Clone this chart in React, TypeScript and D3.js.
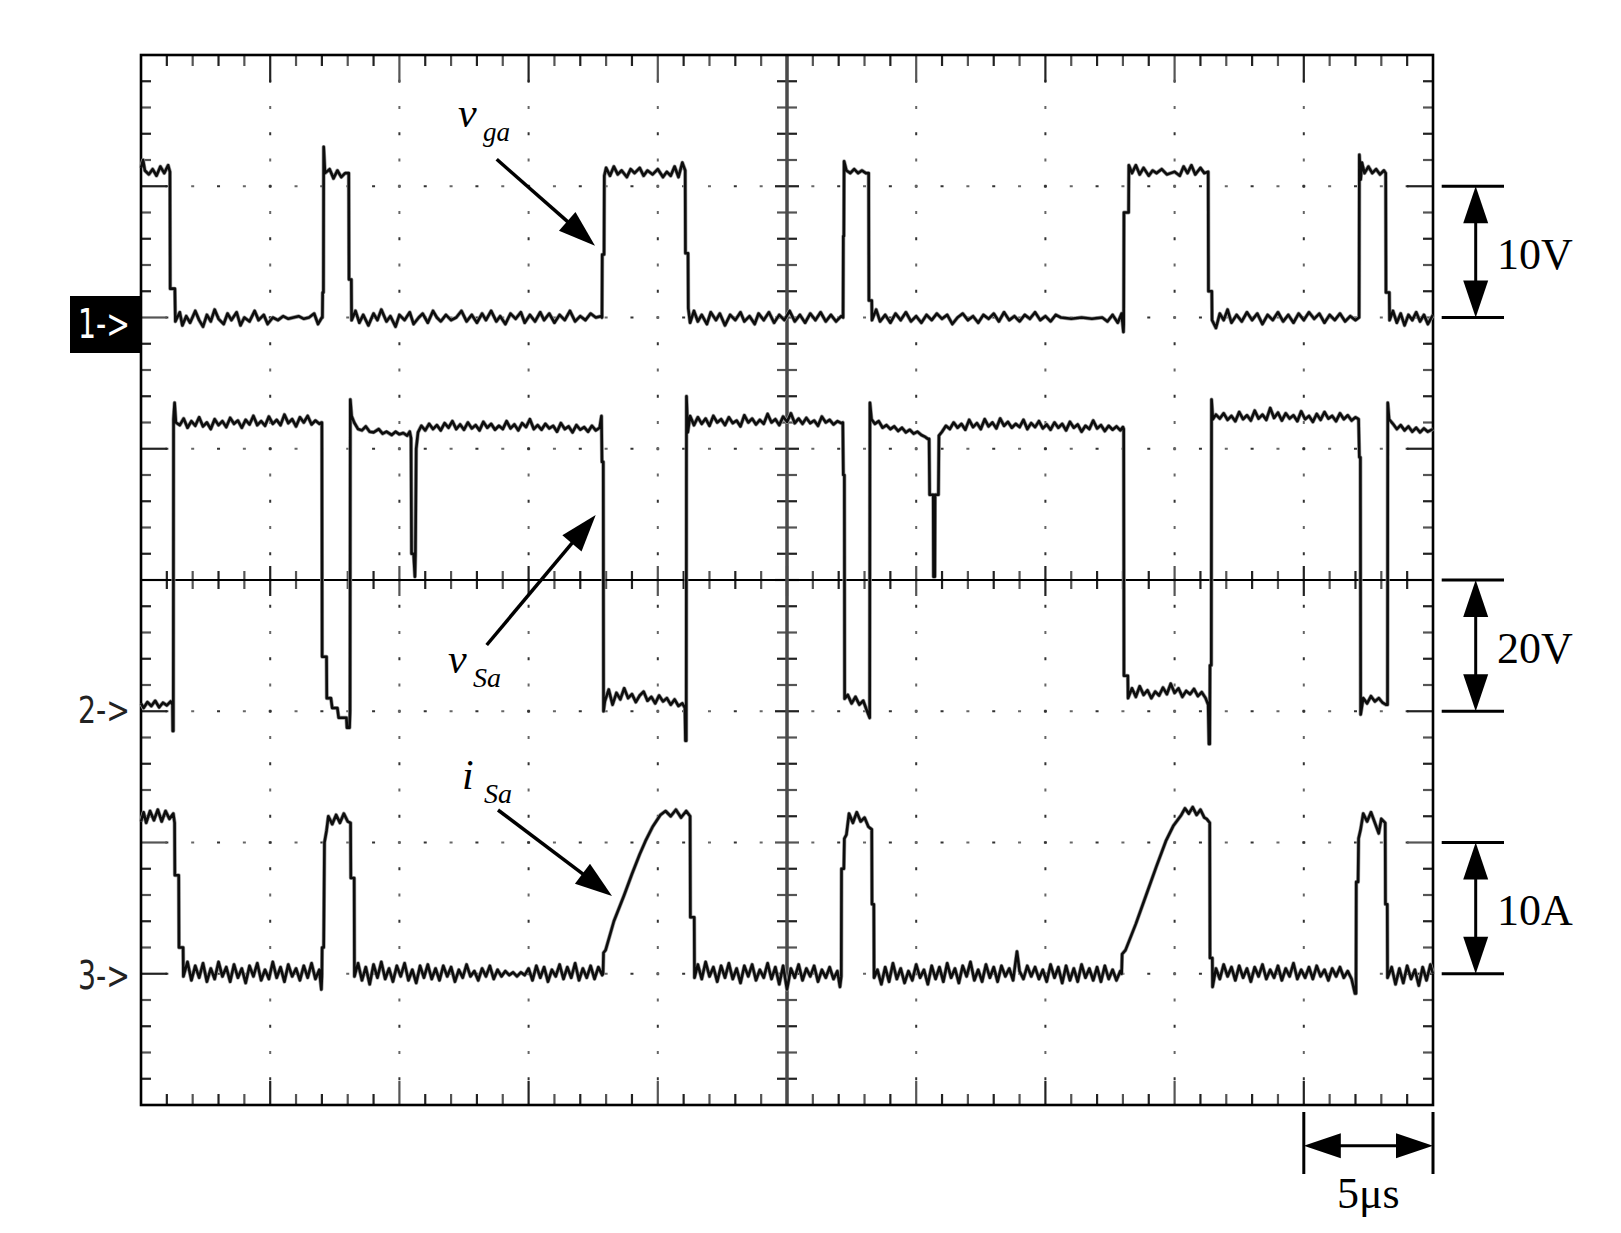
import React from "react";
import * as d3 from "d3";

// ---- data (time in µs, ch1 V, ch2 V, ch3 A) ----
const timeRange = [0, 50];
const hDivs = 10;
const vDivs = 8;
const minorPerDiv = 5;

const vgaTrace: [number, number][] = [
  [0, 11.4], [0.08, 12.0], [0.15, 11.2], [0.3, 10.9], [0.45, 11.3], [0.6, 10.8], [0.75, 11.5], [0.9, 11.0], [1.05, 11.6], [1.12, 11.1], [1.13, 2.2], [1.31, 2.2], [1.33, -0.3],
  [1.5, 0.4], [1.6, -0.6], [1.75, 0.1], [1.9, -0.4], [2.1, 0.5], [2.25, -0.2], [2.4, -0.7], [2.55, 0.2], [2.7, -0.3], [2.85, 0.6], [3.0, -0.1], [3.2, -0.5], [3.35, 0.3], [3.5, -0.2], [3.7, 0.4], [3.85, -0.6], [4.0, 0.0], [4.2, -0.3], [4.4, 0.5], [4.55, -0.2], [4.75, 0.2], [4.9, -0.5], [5.1, 0.0], [5.3, -0.2], [5.5, 0.1], [5.7, -0.1], [5.9, 0.0], [6.1, 0.1], [6.3, -0.1], [6.5, 0.0], [6.7, 0.3], [6.85, -0.5], [7.0, 0.0],
  [7.02, 0.0], [7.03, 1.9], [7.06, 1.9], [7.07, 13.0], [7.12, 11.0], [7.3, 11.3], [7.45, 10.6], [7.6, 11.2], [7.75, 10.7], [7.9, 11.0], [8.04, 11.0], [8.05, 2.9], [8.14, 2.9], [8.15, -0.2],
  [8.3, 0.5], [8.45, -0.4], [8.6, 0.2], [8.8, -0.6], [9.0, 0.3], [9.15, -0.2], [9.3, 0.6], [9.5, -0.3], [9.65, 0.1], [9.85, -0.7], [10.0, 0.2], [10.2, -0.2], [10.4, 0.4], [10.55, -0.5], [10.75, 0.0], [10.9, 0.3], [11.1, -0.4], [11.3, 0.5], [11.45, 0.0], [11.6, -0.3], [11.8, 0.2], [12.0, -0.2], [12.2, 0.0], [12.4, 0.5], [12.6, -0.3], [12.8, 0.2], [13.0, -0.4], [13.2, 0.3], [13.35, -0.2], [13.55, 0.5], [13.75, -0.3], [13.9, 0.1], [14.1, -0.5], [14.3, 0.3], [14.5, -0.1], [14.7, 0.4], [14.85, -0.4], [15.05, 0.2], [15.25, -0.3], [15.45, 0.4], [15.6, -0.2], [15.8, 0.3], [16.0, -0.4], [16.2, 0.2], [16.4, -0.2], [16.6, 0.5], [16.8, -0.3], [17.0, 0.1], [17.2, -0.2], [17.4, 0.3], [17.6, 0.0], [17.8, 0.1],
  [17.84, 0.0], [17.85, 4.8], [17.92, 4.8], [17.93, 10.8], [18.0, 11.4], [18.15, 10.8], [18.3, 11.5], [18.45, 10.9], [18.6, 11.2], [18.8, 10.7], [18.95, 11.3], [19.1, 11.0], [19.3, 11.4], [19.45, 10.8], [19.6, 11.2], [19.8, 10.9], [20.0, 11.3], [20.2, 10.7], [20.35, 11.1], [20.5, 10.8], [20.65, 11.5], [20.8, 10.7], [20.95, 11.8], [21.06, 11.2], [21.07, 4.9], [21.17, 4.9], [21.18, 0.7], [21.25, -0.4],
  [21.4, 0.5], [21.55, -0.3], [21.7, 0.2], [21.9, -0.5], [22.05, 0.4], [22.25, -0.2], [22.4, 0.3], [22.6, -0.6], [22.8, 0.2], [23.0, -0.2], [23.2, 0.4], [23.35, -0.3], [23.55, 0.1], [23.75, -0.5], [23.9, 0.3], [24.1, -0.2], [24.3, 0.4], [24.5, -0.4], [24.7, 0.2], [24.9, -0.2], [25.1, 0.5], [25.3, -0.3], [25.5, 0.2], [25.7, -0.4], [25.9, 0.3], [26.1, -0.2], [26.3, 0.4], [26.5, -0.3], [26.7, 0.2], [26.9, -0.3], [27.1, 0.1],
  [27.17, 0.0], [27.18, 6.2], [27.2, 6.2], [27.21, 11.9], [27.3, 11.2], [27.45, 11.0], [27.6, 11.3], [27.75, 11.0], [27.9, 11.2], [28.05, 11.0], [28.16, 11.0], [28.17, 1.3], [28.28, 1.3], [28.29, -0.2],
  [28.45, 0.6], [28.6, -0.3], [28.8, 0.2], [29.0, -0.4], [29.2, 0.3], [29.4, -0.2], [29.6, 0.4], [29.8, -0.3], [30.0, 0.1], [30.2, -0.4], [30.4, 0.2], [30.6, -0.2], [30.8, 0.3], [31.0, -0.1], [31.2, 0.2], [31.4, -0.5], [31.6, 0.0], [31.8, 0.3], [32.0, -0.2], [32.2, 0.1], [32.4, -0.4], [32.6, 0.2], [32.8, -0.1], [33.0, 0.3], [33.2, -0.3], [33.4, 0.4], [33.6, -0.2], [33.8, 0.1], [34.0, -0.3], [34.2, 0.2], [34.4, -0.1], [34.6, 0.4], [34.8, -0.2], [35.0, 0.1], [35.2, -0.3], [35.4, 0.2], [35.6, 0.0], [36.0, -0.1], [36.4, 0.0], [36.8, -0.1], [37.2, 0.0], [37.4, -0.3], [37.6, 0.2], [37.8, -0.4], [37.95, 0.3], [38.02, -1.1],
  [38.03, -0.5], [38.04, 8.0], [38.22, 8.0], [38.23, 11.6], [38.35, 11.0], [38.5, 11.6], [38.65, 10.9], [38.8, 11.4], [39.0, 10.8], [39.15, 11.2], [39.3, 11.0], [39.5, 11.3], [39.7, 10.9], [39.85, 11.0], [40.0, 11.1], [40.2, 10.8], [40.35, 11.5], [40.5, 11.0], [40.65, 11.6], [40.8, 10.9], [41.0, 11.4], [41.15, 11.0], [41.3, 11.1], [41.31, 2.0], [41.44, 2.0], [41.45, -0.2],
  [41.6, -0.8], [41.75, 0.3], [41.9, -0.2], [42.05, 0.6], [42.2, -0.4], [42.4, 0.2], [42.6, -0.3], [42.8, 0.4], [43.0, -0.2], [43.2, 0.3], [43.4, -0.5], [43.6, 0.2], [43.8, -0.2], [44.0, 0.4], [44.2, -0.3], [44.4, 0.2], [44.6, -0.4], [44.8, 0.3], [45.0, -0.2], [45.2, 0.4], [45.4, -0.1], [45.6, 0.3], [45.8, -0.4], [46.0, 0.2], [46.2, -0.2], [46.4, 0.3], [46.6, -0.3], [46.8, 0.1], [47.0, -0.2], [47.14, 0.0],
  [47.15, 12.4], [47.2, 10.5], [47.25, 11.8], [47.35, 11.0], [47.5, 11.5], [47.65, 11.0], [47.8, 11.3], [47.95, 10.9], [48.1, 11.2], [48.17, 11.0], [48.18, 1.9], [48.31, 1.9], [48.32, -0.2],
  [48.45, 0.5], [48.6, -0.4], [48.75, 0.3], [48.9, -0.6], [49.05, 0.2], [49.2, -0.2], [49.35, 0.4], [49.5, -0.3], [49.65, 0.2], [49.8, -0.5], [50, 0.2],
];

const vSaTrace: [number, number][] = [
  [0, 1.2], [0.1, 0.5], [0.25, 1.4], [0.4, 0.8], [0.55, 1.6], [0.7, 0.6], [0.85, 1.3], [1.0, 0.9], [1.15, 1.5], [1.22, 1.0], [1.23, -3.0], [1.25, -3.0], [1.26, 44.5], [1.3, 47.0], [1.35, 44.0],
  [1.5, 43.6], [1.65, 44.6], [1.8, 43.2], [1.95, 44.2], [2.1, 43.5], [2.25, 44.8], [2.4, 43.4], [2.55, 44.0], [2.7, 43.0], [2.85, 44.5], [3.0, 43.6], [3.15, 44.2], [3.3, 43.3], [3.45, 44.7], [3.6, 43.8], [3.75, 44.3], [3.9, 43.2], [4.05, 44.4], [4.2, 43.7], [4.35, 45.0], [4.5, 43.6], [4.65, 44.2], [4.8, 43.5], [4.95, 44.9], [5.1, 43.8], [5.25, 44.4], [5.4, 43.6], [5.55, 45.2], [5.7, 43.9], [5.85, 44.5], [6.0, 43.4], [6.15, 44.8], [6.3, 44.0], [6.45, 45.0], [6.6, 43.7], [6.75, 44.3], [6.9, 43.8], [6.98, 44.0],
  [7.0, 44.0], [7.01, 8.3], [7.18, 8.3], [7.19, 2.0], [7.35, 2.0], [7.4, 0.5], [7.6, 0.5], [7.65, -1.0], [7.95, -1.0], [7.97, -2.5], [8.07, -2.5], [8.09, 0.0], [8.1, 47.5], [8.15, 45.0], [8.25, 44.0], [8.4, 43.0], [8.55, 42.8], [8.7, 43.4], [8.85, 42.6], [9.0, 42.5], [9.2, 43.0], [9.35, 42.3], [9.5, 42.6], [9.7, 42.1], [9.85, 42.6], [10.0, 42.2], [10.15, 42.4], [10.3, 42.0], [10.4, 42.6], [10.45, 41.6],
  [10.47, 24.0], [10.55, 24.0], [10.6, 20.5], [10.62, 24.0], [10.65, 40.0], [10.72, 42.5], [10.85, 43.5], [11.0, 42.8], [11.15, 43.8], [11.3, 43.0],
  [11.45, 43.6], [11.6, 42.8], [11.75, 43.9], [11.9, 43.2], [12.05, 44.2], [12.2, 43.0], [12.35, 43.7], [12.5, 42.9], [12.65, 44.0], [12.8, 43.1], [12.95, 43.6], [13.1, 42.8], [13.25, 44.1], [13.4, 43.2], [13.55, 43.8], [13.7, 42.9], [13.85, 43.5], [14.0, 43.0], [14.15, 44.2], [14.3, 43.1], [14.45, 43.7], [14.6, 42.8], [14.75, 43.9], [14.9, 43.3], [15.05, 44.5], [15.2, 43.0], [15.35, 43.6], [15.5, 42.9], [15.65, 43.8], [15.8, 43.1], [15.95, 43.5], [16.1, 42.6], [16.25, 43.9], [16.4, 43.0], [16.55, 43.4], [16.7, 42.5], [16.85, 43.6], [17.0, 42.9], [17.15, 43.3], [17.3, 42.6], [17.45, 43.5], [17.6, 42.8], [17.75, 43.2], [17.82, 45.0],
  [17.84, 38.0], [17.89, 38.0], [17.9, 0.0], [17.95, 1.5], [18.1, 3.3], [18.25, 1.0], [18.4, 2.8], [18.55, 1.8], [18.7, 3.5], [18.85, 2.0], [19.0, 2.6], [19.15, 1.4], [19.3, 2.4], [19.45, 3.0], [19.6, 1.6], [19.75, 2.2], [19.9, 1.2], [20.05, 2.4], [20.2, 1.5], [20.35, 2.0], [20.5, 1.0], [20.65, 1.8], [20.8, 0.8], [20.95, 1.2], [21.05, 0.5], [21.07, -4.5],
  [21.1, -4.5], [21.11, 48.0], [21.16, 42.5], [21.25, 45.0], [21.4, 43.6],
  [21.55, 44.8], [21.7, 43.8], [21.85, 44.6], [22.0, 43.5], [22.15, 45.0], [22.3, 44.0], [22.45, 44.5], [22.6, 43.6], [22.75, 44.8], [22.9, 43.9], [23.05, 44.3], [23.2, 43.4], [23.35, 45.1], [23.5, 44.0], [23.65, 44.6], [23.8, 43.7], [23.95, 44.4], [24.1, 43.8], [24.25, 45.3], [24.4, 44.0], [24.55, 44.5], [24.7, 43.6], [24.85, 44.9], [25.0, 44.1], [25.15, 45.4], [25.3, 43.9], [25.45, 44.6], [25.6, 43.8], [25.75, 44.7], [25.9, 43.9], [26.05, 44.3], [26.2, 43.5], [26.35, 44.9], [26.5, 44.0], [26.65, 44.4], [26.8, 43.7], [26.95, 44.2], [27.1, 43.9], [27.16, 44.0],
  [27.18, 36.0], [27.22, 36.0], [27.23, 1.9], [27.35, 2.5], [27.5, 1.2], [27.65, 2.2], [27.8, 1.0], [27.95, 1.6], [28.1, 0.0], [28.2, -1.0],
  [28.21, 47.0], [28.27, 44.5], [28.4, 43.8], [28.55, 44.2], [28.7, 43.2], [28.85, 43.6], [29.0, 43.0], [29.15, 43.4], [29.3, 42.7], [29.45, 43.2], [29.6, 42.5], [29.75, 42.9], [29.9, 42.3], [30.05, 42.6], [30.2, 42.1], [30.35, 41.8], [30.45, 41.5],
  [30.5, 41.5], [30.52, 33.0], [30.66, 33.0], [30.67, 20.5], [30.72, 20.5], [30.73, 33.0], [30.86, 33.0], [30.88, 42.0], [31.0, 42.6], [31.15, 43.5],
  [31.3, 43.0], [31.45, 44.0], [31.6, 43.2], [31.75, 43.8], [31.9, 42.9], [32.05, 44.4], [32.2, 43.3], [32.35, 43.9], [32.5, 43.0], [32.65, 44.5], [32.8, 43.4], [32.95, 44.0], [33.1, 43.1], [33.25, 44.6], [33.4, 43.5], [33.55, 44.1], [33.7, 43.2], [33.85, 43.8], [34.0, 43.3], [34.15, 44.4], [34.3, 43.0], [34.45, 43.9], [34.6, 43.3], [34.75, 44.2], [34.9, 43.1], [35.05, 43.7], [35.2, 42.9], [35.35, 44.0], [35.5, 43.2], [35.65, 43.8], [35.8, 42.8], [35.95, 44.1], [36.1, 43.2], [36.25, 43.7], [36.4, 42.6], [36.55, 43.5], [36.7, 43.0], [36.85, 44.3], [37.0, 43.1], [37.15, 43.6], [37.3, 42.7], [37.45, 43.5], [37.6, 42.9], [37.75, 43.4], [37.9, 42.8], [38.0, 43.3],
  [38.03, 43.0], [38.04, 5.4], [38.19, 5.4], [38.2, 2.0], [38.35, 3.5], [38.5, 2.2], [38.65, 3.8], [38.8, 2.5], [38.95, 3.2], [39.1, 2.0], [39.25, 3.0], [39.4, 2.4], [39.55, 3.6], [39.7, 2.6], [39.85, 4.2], [40.0, 2.8], [40.15, 3.5], [40.3, 2.2], [40.45, 3.1], [40.6, 2.6], [40.75, 3.4], [40.9, 2.3], [41.05, 2.9], [41.2, 2.0], [41.3, 1.0], [41.33, -5.0],
  [41.36, -5.0], [41.37, 7.0], [41.42, 7.0], [41.43, 47.5], [41.48, 44.5], [41.6, 45.2],
  [41.75, 44.6], [41.9, 45.4], [42.05, 44.4], [42.2, 45.0], [42.35, 44.2], [42.5, 45.6], [42.65, 44.5], [42.8, 45.1], [42.95, 44.3], [43.1, 45.8], [43.25, 44.6], [43.4, 45.2], [43.55, 44.4], [43.7, 46.2], [43.85, 44.7], [44.0, 45.5], [44.15, 44.3], [44.3, 45.4], [44.45, 44.6], [44.6, 45.1], [44.75, 44.2], [44.9, 45.7], [45.05, 44.5], [45.2, 45.0], [45.35, 44.1], [45.5, 45.3], [45.65, 44.4], [45.8, 45.6], [45.95, 44.6], [46.1, 45.0], [46.25, 44.2], [46.4, 45.4], [46.55, 44.5], [46.7, 45.1], [46.85, 44.3], [47.0, 44.8], [47.12, 44.5],
  [47.15, 38.7], [47.19, 38.7], [47.2, -0.5], [47.3, 2.0], [47.45, 1.2], [47.6, 2.3], [47.75, 1.5], [47.9, 2.0], [48.05, 1.3], [48.18, 1.0],
  [48.24, 1.0], [48.25, 47.0], [48.3, 44.5], [48.45, 43.8], [48.6, 43.0], [48.75, 43.6], [48.9, 42.8], [49.05, 43.4], [49.2, 42.6], [49.35, 43.2], [49.5, 42.5], [49.65, 43.1], [49.8, 42.6], [50, 43.0],
];

const iSaTrace: [number, number][] = [
  [0, 11.6], [0.1, 12.3], [0.2, 11.5], [0.35, 12.4], [0.5, 11.7], [0.65, 12.5], [0.8, 11.6], [0.95, 12.4], [1.1, 11.8], [1.25, 12.2], [1.3, 11.5], [1.31, 7.5], [1.46, 7.5], [1.47, 2.0], [1.63, 2.0], [1.64, -0.2],
  [1.8, 0.9], [1.95, -0.5], [2.1, 0.6], [2.25, -0.3], [2.4, 0.8], [2.55, -0.6], [2.7, 0.4], [2.85, -0.4], [3.0, 0.9], [3.15, -0.2], [3.3, 0.5], [3.45, -0.6], [3.6, 0.7], [3.75, -0.3], [3.9, 0.4], [4.05, -0.7], [4.2, 0.6], [4.35, -0.2], [4.5, 0.8], [4.65, -0.5], [4.8, 0.3], [4.95, -0.4], [5.1, 0.9], [5.25, -0.3], [5.4, 0.5], [5.55, -0.6], [5.7, 0.7], [5.85, -0.2], [6.0, 0.4], [6.15, -0.5], [6.3, 0.6], [6.45, -0.3], [6.6, 0.8], [6.75, -0.4], [6.9, 0.3], [6.98, -1.2],
  [7.0, -0.2], [7.01, 2.0], [7.07, 2.0], [7.1, 10.0], [7.18, 10.9], [7.25, 12.0], [7.4, 11.4], [7.55, 12.1], [7.7, 11.5], [7.85, 12.2], [8.0, 11.6], [8.11, 11.5], [8.12, 7.3], [8.25, 7.3], [8.26, -0.2],
  [8.4, 0.8], [8.55, -0.5], [8.7, 0.5], [8.85, -0.8], [9.0, 0.7], [9.15, -0.3], [9.3, 0.9], [9.45, -0.4], [9.6, 0.4], [9.75, -0.6], [9.9, 0.6], [10.05, -0.2], [10.2, 0.8], [10.35, -0.5], [10.5, 0.3], [10.65, -0.7], [10.8, 0.6], [10.95, -0.3], [11.1, 0.7], [11.25, -0.4], [11.4, 0.4], [11.55, -0.5], [11.7, 0.6], [11.85, -0.2], [12.0, 0.5], [12.15, -0.6], [12.3, 0.3], [12.45, -0.3], [12.6, 0.7], [12.75, -0.2], [12.9, 0.2], [13.05, -0.5], [13.2, 0.4], [13.35, -0.2], [13.5, 0.6], [13.65, -0.4], [13.8, 0.3], [13.95, -0.2], [14.1, 0.2], [14.25, -0.1], [14.4, 0.1], [14.55, -0.2], [14.7, 0.1], [14.85, -0.1], [15.0, 0.4], [15.15, -0.5], [15.3, 0.6], [15.45, -0.3], [15.6, 0.5], [15.75, -0.6], [15.9, 0.3], [16.05, -0.2], [16.2, 0.7], [16.35, -0.4], [16.5, 0.5], [16.65, -0.3], [16.8, 0.8], [16.95, -0.5], [17.1, 0.4], [17.25, -0.3], [17.4, 0.6], [17.55, -0.4], [17.7, 0.5], [17.85, -0.1],
  [17.88, 0.0], [17.9, 1.6], [17.98, 1.8], [18.3, 4.0], [18.7, 6.0], [19.0, 7.6], [19.3, 9.1], [19.52, 10.1], [19.8, 11.2], [20.1, 12.1], [20.3, 12.4], [20.5, 12.0], [20.7, 12.5], [20.9, 11.9], [21.1, 12.4], [21.25, 12.0], [21.26, 4.3], [21.41, 4.3], [21.42, -0.3],
  [21.55, 0.7], [21.7, -0.4], [21.85, 0.9], [22.0, -0.2], [22.15, 0.5], [22.3, -0.6], [22.45, 0.6], [22.6, -0.3], [22.75, 0.8], [22.9, -0.4], [23.05, 0.4], [23.2, -0.7], [23.35, 0.6], [23.5, -0.2], [23.65, 0.7], [23.8, -0.5], [23.95, 0.3], [24.1, -0.3], [24.25, 0.8], [24.4, -0.4], [24.55, 0.5], [24.7, -0.8], [24.85, 0.6], [25.0, -1.2], [25.15, 0.4], [25.3, -0.3], [25.45, 0.7], [25.6, -0.5], [25.75, 0.4], [25.9, -0.2], [26.05, 0.6], [26.2, -0.6], [26.35, 0.3], [26.5, -0.3], [26.65, 0.5], [26.8, -0.4], [26.95, 0.2], [27.05, -1.0],
  [27.1, -0.2], [27.11, 8.0], [27.2, 8.0], [27.22, 10.3], [27.3, 10.6], [27.4, 12.2], [27.55, 11.5], [27.7, 12.3], [27.85, 11.6], [28.0, 11.9], [28.15, 11.2], [28.28, 11.0], [28.29, 5.3], [28.36, 5.3], [28.37, -0.3],
  [28.5, 0.3], [28.65, -0.8], [28.8, 0.5], [28.95, -0.6], [29.1, 0.8], [29.25, -0.4], [29.4, 0.4], [29.55, -0.7], [29.7, 0.2], [29.85, -0.5], [30.0, 0.7], [30.15, -0.3], [30.3, 0.3], [30.45, -0.8], [30.6, 0.6], [30.75, -0.4], [30.9, 0.5], [31.05, -0.6], [31.2, 0.8], [31.35, -0.3], [31.5, 0.4], [31.65, -0.7], [31.8, 0.6], [31.95, -0.2], [32.1, 0.9], [32.25, -0.5], [32.4, 0.3], [32.55, -0.6], [32.7, 0.7], [32.85, -0.3], [33.0, 0.5], [33.15, -0.6], [33.3, 0.6], [33.45, -0.2], [33.6, 0.4], [33.75, -0.5], [33.9, 1.7], [34.0, 0.2], [34.15, -0.4], [34.3, 0.6], [34.45, -0.2], [34.6, 0.5], [34.75, -0.4], [34.9, 0.3], [35.05, -0.6], [35.2, 0.7], [35.35, -0.3], [35.5, 0.5], [35.65, -0.7], [35.8, 0.6], [35.95, -0.5], [36.1, 0.4], [36.25, -0.6], [36.4, 0.7], [36.55, -0.3], [36.7, 0.4], [36.85, -0.5], [37.0, 0.5], [37.15, -0.6], [37.3, 0.6], [37.45, -0.4], [37.6, 0.3], [37.75, -0.5], [37.9, 0.2],
  [37.95, 0.0], [37.97, 1.5], [38.1, 1.8], [38.5, 3.8], [38.9, 6.0], [39.3, 8.2], [39.66, 10.1], [39.96, 11.3], [40.26, 12.1], [40.4, 12.6], [40.55, 12.2], [40.7, 12.7], [40.85, 12.1], [41.0, 12.5], [41.15, 11.9], [41.24, 11.8], [41.36, 11.5], [41.37, 1.2], [41.46, 1.2], [41.47, -1.0],
  [41.6, 0.4], [41.75, -0.4], [41.9, 0.7], [42.05, -0.2], [42.2, 0.5], [42.35, -0.5], [42.5, 0.6], [42.65, -0.3], [42.8, 0.4], [42.95, -0.6], [43.1, 0.5], [43.25, -0.2], [43.4, 0.7], [43.55, -0.4], [43.7, 0.3], [43.85, -0.3], [44.0, 0.6], [44.15, -0.5], [44.3, 0.4], [44.45, -0.2], [44.6, 0.8], [44.75, -0.4], [44.9, 0.3], [45.05, -0.3], [45.2, 0.5], [45.35, -0.4], [45.5, 0.6], [45.65, -0.2], [45.8, 0.3], [45.95, -0.5], [46.1, 0.4], [46.25, -0.2], [46.4, 0.5], [46.55, -0.3], [46.7, 0.2], [46.85, -0.4], [46.98, -1.5],
  [47.02, -1.5], [47.03, 7.0], [47.1, 7.0], [47.12, 10.3], [47.2, 11.0], [47.3, 12.2], [47.45, 11.6], [47.6, 12.3], [47.75, 11.5], [47.9, 10.7], [48.0, 11.8], [48.15, 11.5], [48.16, 5.3], [48.23, 5.3], [48.24, -0.3],
  [48.4, 0.5], [48.55, -0.8], [48.7, 0.4], [48.85, -0.7], [49.0, 0.6], [49.15, -0.4], [49.3, 0.3], [49.45, -0.9], [49.6, 0.5], [49.75, -0.5], [49.9, 0.7], [50, 0.0],
];

// channel settings: volts(amps) per division, ground position in divisions from top
const channels = [
  { name: "1->", perDiv: 10, groundDiv: 2, data: vgaTrace },
  { name: "2->", perDiv: 20, groundDiv: 5, data: vSaTrace },
  { name: "3->", perDiv: 10, groundDiv: 7, data: iSaTrace },
];

const scaleMarkers = [
  { label: "10V", fromDiv: 1, toDiv: 2 },
  { label: "20V", fromDiv: 4, toDiv: 5 },
  { label: "10A", fromDiv: 6, toDiv: 7 },
];
const timeMarkerLabel = "5μs";

// ---- layout ----
const W = 1621, H = 1233;
const L = 141, R = 1433, T = 55, B = 1105;

export default function App() {
  const gx = d3.scaleLinear().domain([0, hDivs]).range([L, R]);
  const gy = d3.scaleLinear().domain([0, vDivs]).range([T, B]);
  const tx = d3.scaleLinear().domain(timeRange).range([L, R]);

  const minorX = d3.range(1, hDivs * minorPerDiv).map((k) => ({ x: gx(k / minorPerDiv), major: k % minorPerDiv === 0 }));
  const minorY = d3.range(1, vDivs * minorPerDiv).map((k) => ({ y: gy(k / minorPerDiv), major: k % minorPerDiv === 0 }));
  const cx = gx(hDivs / 2), cy = gy(vDivs / 2);

  const els: React.ReactNode[] = [];

  // dotted grid lines
  d3.range(1, hDivs).forEach((i) => {
    if (i === hDivs / 2) return;
    minorY.forEach((m, j) => {
      els.push(<rect key={`dv${i}-${j}`} x={gx(i) - 1} y={m.y - 1.5} width={2} height={3} fill={j % 2 ? "#666" : "#333"} />);
    });
  });
  d3.range(1, vDivs).forEach((i) => {
    if (i === vDivs / 2) return;
    minorX.forEach((m, j) => {
      els.push(<rect key={`dh${i}-${j}`} x={m.x - 1.5} y={gy(i) - 1} width={3} height={2} fill={j % 2 ? "#666" : "#333"} />);
    });
  });

  // border ticks
  minorX.forEach((m, j) => {
    const lt = m.major ? 27 : 11;
    const lb = m.major ? 24 : 11;
    const c = j % 2 ? "#555" : "#222";
    els.push(<line key={`tt${j}`} x1={m.x} x2={m.x} y1={T} y2={T + lt} stroke={c} strokeWidth={2.2} />);
    els.push(<line key={`tb${j}`} x1={m.x} x2={m.x} y1={B} y2={B - lb} stroke={c} strokeWidth={2.2} />);
    els.push(<line key={`tc${j}`} x1={m.x} x2={m.x} y1={cy - (m.major ? 14 : 9)} y2={cy + (m.major ? 16 : 9)} stroke={c} strokeWidth={2.2} />);
  });
  minorY.forEach((m, j) => {
    const l = m.major ? 26 : 10;
    const c = j % 2 ? "#555" : "#222";
    els.push(<line key={`tl${j}`} y1={m.y} y2={m.y} x1={L} x2={L + l} stroke={c} strokeWidth={2.2} />);
    els.push(<line key={`tr${j}`} y1={m.y} y2={m.y} x1={R} x2={R - l} stroke={c} strokeWidth={2.2} />);
    els.push(<line key={`tcv${j}`} y1={m.y} y2={m.y} x1={cx - (m.major ? 12 : 10)} x2={cx + (m.major ? 12 : 10)} stroke={c} strokeWidth={2.2} />);
  });

  const traces = channels.map((ch) => {
    const y = d3.scaleLinear().domain([0, ch.perDiv]).range([gy(ch.groundDiv), gy(ch.groundDiv - 1)]);
    const line = d3.line<[number, number]>().x((d) => tx(d[0])).y((d) => y(d[1]));
    return line(ch.data) || "";
  });

  const arrowHead = (x1: number, y1: number, x2: number, y2: number, len = 37, hw = 12.5) => {
    const dx = x2 - x1, dy = y2 - y1;
    const d = Math.hypot(dx, dy);
    const ux = dx / d, uy = dy / d;
    const bx = x2 - ux * len, by = y2 - uy * len;
    return `M${x2},${y2}L${bx - uy * hw},${by + ux * hw}L${bx + uy * hw},${by - ux * hw}Z`;
  };
  const pointer = (key: string, x1: number, y1: number, x2: number, y2: number) => {
    const d = Math.hypot(x2 - x1, y2 - y1);
    const ex = x2 - ((x2 - x1) / d) * 30, ey = y2 - ((y2 - y1) / d) * 30;
    return (
      <g key={key}>
        <line x1={x1} y1={y1} x2={ex} y2={ey} stroke="#000" strokeWidth={3.5} />
        <path d={arrowHead(x1, y1, x2, y2)} fill="#000" />
      </g>
    );
  };

  const serif = "'Liberation Serif', 'Times New Roman', serif";
  const arrowX = 1475.7;

  return (
    <svg width={W} height={H} style={{ position: "absolute", left: 0, top: 0, background: "#fff" }} xmlns="http://www.w3.org/2000/svg">
      <rect x={0} y={0} width={W} height={H} fill="#fff" />
      {els}
      {/* center cross */}
      <line x1={L} x2={R} y1={cy} y2={cy} stroke="#000" strokeWidth={2.2} />
      <line x1={cx} x2={cx} y1={T} y2={B} stroke="#4a4a4a" strokeWidth={3.5} />
      {/* frame */}
      <rect x={L} y={T} width={R - L} height={B - T} fill="none" stroke="#000" strokeWidth={2.6} />

      {/* traces */}
      {traces.map((d, i) => (
        <g key={`tr${i}`}>
          <path d={d} fill="none" stroke="#9a9a9a" strokeWidth={4} strokeLinejoin="round" />
          <path d={d} fill="none" stroke="#0d0d0d" strokeWidth={2.6} strokeLinejoin="round" />
        </g>
      ))}

      {/* channel markers */}
      <rect x={70} y={296} width={71} height={57} fill="#000" />
      <text x={78} y={338} fill="#fff" fontFamily="'DejaVu Sans', sans-serif" fontSize={40} textLength={52} lengthAdjust="spacingAndGlyphs">{channels[0].name}</text>
      <text x={78} y={723} fill="#222" fontFamily="'DejaVu Sans', sans-serif" fontSize={38} textLength={52} lengthAdjust="spacingAndGlyphs">{channels[1].name}</text>
      <text x={78} y={989} fill="#222" fontFamily="'DejaVu Sans', sans-serif" fontSize={39} textLength={52} lengthAdjust="spacingAndGlyphs">{channels[2].name}</text>

      {/* annotations */}
      <text x={458} y={127} fontFamily={serif} fontStyle="italic" fontSize={42}>v</text>
      <text x={483} y={141} fontFamily={serif} fontStyle="italic" fontSize={27}>ga</text>
      {pointer("pa", 496.7, 159.3, 595, 245.7)}
      <text x={448} y={673} fontFamily={serif} fontStyle="italic" fontSize={42}>v</text>
      <text x={473} y={687} fontFamily={serif} fontStyle="italic" fontSize={28}>Sa</text>
      {pointer("pb", 486.7, 645, 595.7, 515)}
      <text x={462} y={789} fontFamily={serif} fontStyle="italic" fontSize={42}>i</text>
      <text x={484} y={803} fontFamily={serif} fontStyle="italic" fontSize={28}>Sa</text>
      {pointer("pc", 498, 810, 612, 896)}

      {/* amplitude scale markers */}
      {scaleMarkers.map((m, i) => {
        const y1 = gy(m.fromDiv), y2 = gy(m.toDiv);
        return (
          <g key={`sm${i}`}>
            <line x1={1441.7} x2={1504} y1={y1} y2={y1} stroke="#000" strokeWidth={3} />
            <line x1={1441.7} x2={1504} y1={y2} y2={y2} stroke="#000" strokeWidth={3} />
            <line x1={arrowX} x2={arrowX} y1={y1 + 30} y2={y2 - 30} stroke="#000" strokeWidth={3} />
            <path d={arrowHead(arrowX, y2, arrowX, y1)} fill="#000" />
            <path d={arrowHead(arrowX, y1, arrowX, y2)} fill="#000" />
            <text x={1497} y={(y1 + y2) / 2 + 17} fontFamily={serif} fontSize={44}>{m.label}</text>
          </g>
        );
      })}

      {/* time scale marker */}
      {(() => {
        const x1 = gx(hDivs - 1), x2 = gx(hDivs);
        const ya = 1145.7;
        return (
          <g>
            <line x1={x1} x2={x1} y1={1112} y2={1174} stroke="#000" strokeWidth={3} />
            <line x1={x2} x2={x2} y1={1112} y2={1174} stroke="#000" strokeWidth={3} />
            <line x1={x1 + 30} x2={x2 - 30} y1={ya} y2={ya} stroke="#000" strokeWidth={3} />
            <path d={arrowHead(x2, ya, x1, ya)} fill="#000" />
            <path d={arrowHead(x1, ya, x2, ya)} fill="#000" />
            <text x={(x1 + x2) / 2} y={1208} textAnchor="middle" fontFamily={serif} fontSize={44}>{timeMarkerLabel}</text>
          </g>
        );
      })()}
    </svg>
  );
}
